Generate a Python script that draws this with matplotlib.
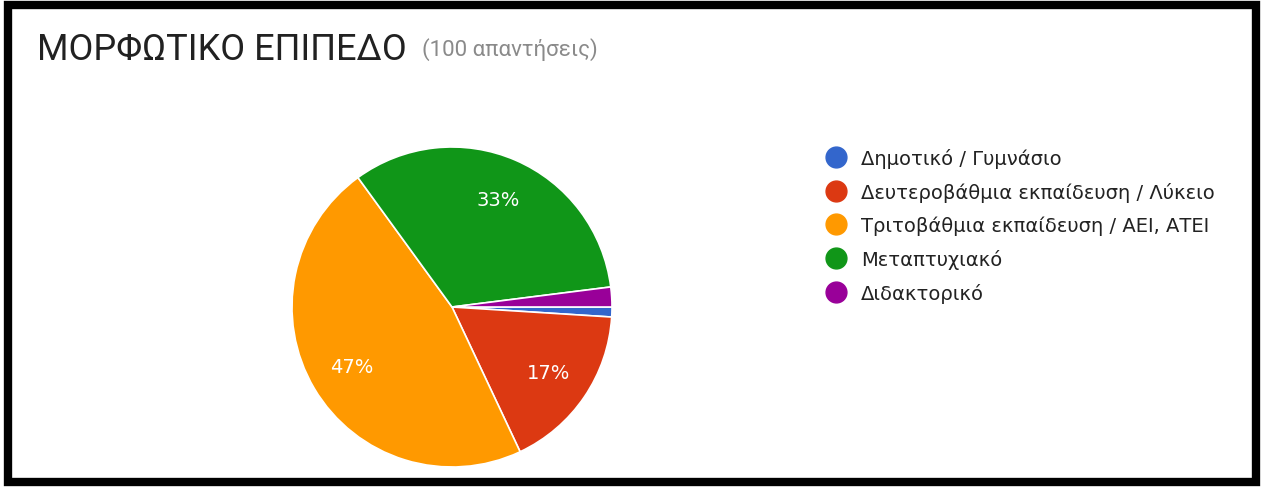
import matplotlib.pyplot as plt
from matplotlib.patches import Rectangle
from matplotlib.lines import Line2D

labels = ['Δημοτικό / Γυμνάσιο', 'Δευτεροβάθμια εκπαίδευση / Λύκειο',
          'Τριτοβάθμια εκπαίδευση / ΑΕΙ, ΑΤΕΙ', 'Μεταπτυχιακό', 'Διδακτορικό']
values = [1, 17, 47, 33, 2]
colors = ['#3366cc', '#dc3912', '#ff9900', '#109618', '#990099']
title = 'ΜΟΡΦΩΤΙΚΟ ΕΠΙΠΕΔΟ'
subtitle = '(100 απαντήσεις)'

W, H = 1265, 489
fig = plt.figure(figsize=(W / 100, H / 100), dpi=100)
fig.patch.set_facecolor('white')

# pie centred at (452, 308) px, radius 160 px
cx, cy, r = 452, 308, 160
ax = fig.add_axes([(cx - r) / W, (H - cy - r) / H, 2 * r / W, 2 * r / H])
wedges, texts, autotexts = ax.pie(
    values, colors=colors, startangle=0, counterclock=False,
    autopct=lambda p: f'{p:.0f}%' if p >= 5 else '', pctdistance=0.73,
    wedgeprops=dict(edgecolor='white', linewidth=1.2),
    textprops=dict(color='white', fontsize=14, family='DejaVu Sans'))
ax.set_xlim(-1, 1)
ax.set_ylim(-1, 1)
ax.set_aspect('equal')
ax.axis('off')

fig.text(37 / W, 1 - 50 / H, title, fontsize=26, family='Roboto',
         color='#212121', va='center', ha='left')
fig.text(422 / W, 1 - 50 / H, subtitle, fontsize=16, family='Roboto',
         color='#8a8a8a', va='center', ha='left')

handles = [Line2D([], [], marker='o', linestyle='', markersize=15,
                  markerfacecolor=c, markeredgecolor=c) for c in colors]
leg = fig.legend(handles, labels, loc='upper left',
                 bbox_to_anchor=(818 / W, 1 - 141 / H), frameon=False,
                 prop=dict(family='DejaVu Sans', size=14),
                 labelspacing=0.71, handletextpad=0.7, handlelength=1.1,
                 borderaxespad=0)
for t in leg.get_texts():
    t.set_color('#222222')

fig.patches.append(Rectangle((8 / W, 1 - 483 / H), 1248 / W, 477 / H,
                             transform=fig.transFigure, fill=False,
                             edgecolor='black', linewidth=6))

plt.savefig('out.png', dpi=100)
